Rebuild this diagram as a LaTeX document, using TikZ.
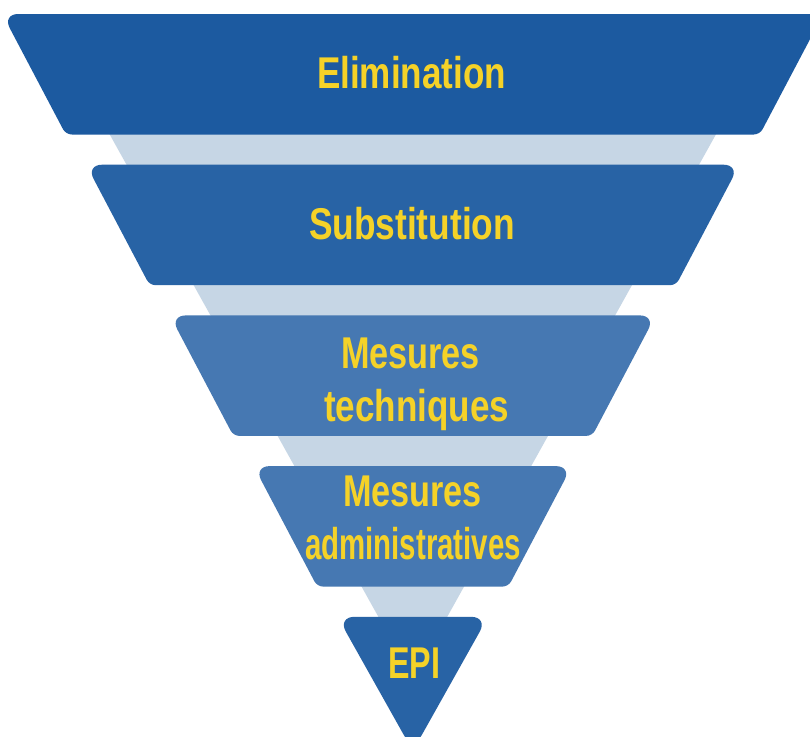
\documentclass[tikz,border=0pt]{standalone}
\usepackage{fontspec}
\setmainfont{Liberation Sans}
\usetikzlibrary{calc}

\definecolor{bandA}{HTML}{1C5AA0}
\definecolor{bandB}{HTML}{2863A5}
\definecolor{bandC}{HTML}{4678B2}
\definecolor{funnelbg}{HTML}{C6D6E5}
\definecolor{labelyellow}{HTML}{F5D228}

% horizontal axis of the funnel
\def\funnelcx{412.8}

% rounded corner at #1 between neighbours #2 (before) and #3 (after);
% #4 is the cut along each side, #5 the control distance from the corner
\newcommand\rcorner[5]{%
  -- ($(#1)!#4!(#2)$) .. controls ($(#1)!#5!(#2)$) and ($(#1)!#5!(#3)$) .. ($(#1)!#4!(#3)$)}

% one rounded trapezoid band:
% #1 name, #2 top y, #3 bottom y, #4 top half width, #5 bottom half width, #6 colour
\newcommand\funnelband[6]{%
  \coordinate (#1-tl) at ({\funnelcx-#4},#2);
  \coordinate (#1-tr) at ({\funnelcx+#4},#2);
  \coordinate (#1-br) at ({\funnelcx+#5},#3);
  \coordinate (#1-bl) at ({\funnelcx-#5},#3);
  \fill[#6] ($(#1-tl)!16pt!(#1-tr)$)
    \rcorner{#1-tr}{#1-tl}{#1-br}{16pt}{7pt}
    \rcorner{#1-br}{#1-tr}{#1-bl}{6pt}{2.6pt}
    \rcorner{#1-bl}{#1-br}{#1-tl}{6pt}{2.6pt}
    \rcorner{#1-tl}{#1-bl}{#1-tr}{16pt}{7pt}
    -- cycle;
}

\tikzset{
  bandlabel/.style={anchor=base, inner sep=0pt, outer sep=0pt,
    text=labelyellow, font=\fontsize{44.5}{50}\selectfont\bfseries}
}

\begin{document}
\begin{tikzpicture}[x=1pt, y=-1pt]
  \useasboundingbox (0,0) rectangle (810,736);
  \fill[white] (0,0) rectangle (810,736);
  \clip (0,0) rectangle (810,736);

  % pale funnel behind the bands
  \coordinate (bg-l) at ({\funnelcx-370.2},14);
  \coordinate (bg-r) at ({\funnelcx+370.2},14);
  \coordinate (bg-apex) at (\funnelcx,678.6);
  \fill[funnelbg] (bg-l) -- (bg-r) -- (bg-apex) -- cycle;

  % the four trapezoid bands
  \funnelband{elim}{14}{134.5}{410.5}{347}{bandA}
  \funnelband{subs}{164.7}{285.2}{326.7}{263.2}{bandB}
  \funnelband{tech}{315.4}{435.9}{242.9}{179.4}{bandC}
  \funnelband{admin}{466.1}{586.6}{159.1}{95.6}{bandC}

  % bottom triangle
  \coordinate (epi-tl) at ({\funnelcx-75.3},616.8);
  \coordinate (epi-tr) at ({\funnelcx+75.3},616.8);
  \coordinate (epi-tip) at (\funnelcx,751);
  \fill[bandB] ($(epi-tl)!17pt!(epi-tr)$)
    \rcorner{epi-tr}{epi-tl}{epi-tip}{17pt}{7.5pt}
    \rcorner{epi-tip}{epi-tr}{epi-tl}{18pt}{8pt}
    \rcorner{epi-tl}{epi-tip}{epi-tr}{17pt}{7.5pt}
    -- cycle;

  % labels
  \node[bandlabel] (l-elim)   at (411.5,88.5) {\resizebox{189pt}{\height}{Elimination}};
  \node[bandlabel] (l-subs)   at (412,239.5)  {\resizebox{206pt}{\height}{Substitution}};
  \node[bandlabel] (l-tech1)  at (410.5,368)  {\resizebox{139pt}{\height}{Mesures}};
  \node[bandlabel] (l-tech2)  at (416.5,421)  {\resizebox{185pt}{\height}{techniques}};
  \node[bandlabel] (l-admin1) at (412.5,506.5) {\resizebox{139pt}{\height}{Mesures}};
  \node[bandlabel] (l-admin2) at (413,559)    {\resizebox{216pt}{\height}{administratives}};
  \node[bandlabel] (l-epi)    at (414,678)    {\resizebox{52pt}{\height}{EPI}};
\end{tikzpicture}
\end{document}
